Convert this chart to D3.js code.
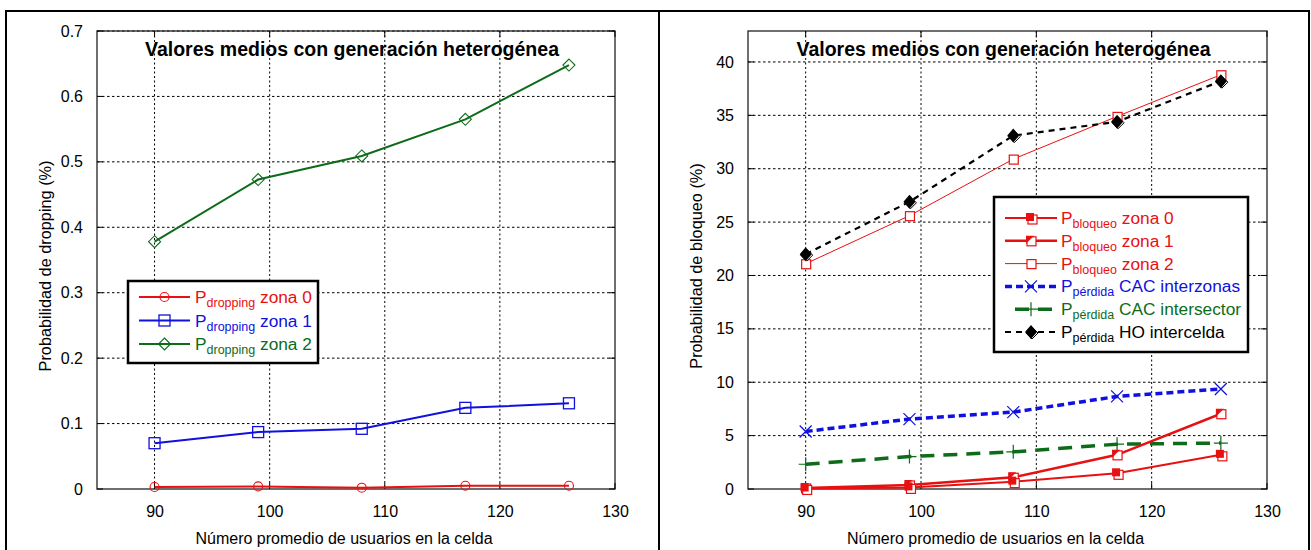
<!DOCTYPE html>
<html><head><meta charset="utf-8">
<script src="https://cdn.jsdelivr.net/npm/d3@7"></script>
<style>body{margin:0;background:#fff}text{font-family:Arial,"Liberation Sans",sans-serif}</style>
</head><body><svg id="c" width="1311" height="550"></svg>
<script>
const xValues = [90, 99, 108, 117, 126];
const xTicks = [90, 100, 110, 120, 130];
const leftYTicks = [0, 0.1, 0.2, 0.3, 0.4, 0.5, 0.6, 0.7];
const rightYTicks = [0, 5, 10, 15, 20, 25, 30, 35, 40];

const dropZona0 = [0.003, 0.004, 0.002, 0.005, 0.005];
const dropZona1 = [0.070, 0.087, 0.092, 0.124, 0.131];
const dropZona2 = [0.378, 0.473, 0.509, 0.565, 0.648];

const bloqZona0 = [0.05, 0.15, 0.69, 1.47, 3.2];
const bloqZona1 = [0.1, 0.38, 1.1, 3.2, 7.05];
const bloqZona2 = [21.1, 25.6, 30.9, 34.9, 38.8];
const perdInterzonas = [5.39, 6.55, 7.2, 8.67, 9.37];
const perdIntersector = [2.32, 3.04, 3.48, 4.2, 4.3];
const perdHO = [22.0, 26.9, 33.1, 34.4, 38.2];

const titleText = "Valores medios con generación heterogénea";
const xTitle = "Número promedio de usuarios en la celda";

const RED = "#e81010", BLUE = "#1010e0", GREEN = "#0d6b1a", BLACK = "#000";
const FONT = "Arial, 'Liberation Sans', sans-serif";
const svg = d3.select("#c");

svg.append("path").attr("d", "M6,550V11H1309V550M659,11V550").attr("fill","none").attr("stroke","#000").attr("stroke-width",2);

function panel(o) {
  const x = d3.scaleLinear().domain([85,130]).range([o.x0, o.x1]);
  const y = d3.scaleLinear().domain(o.yDomain).range([o.yb, o.yt]);
  const g = svg.append("g");
  g.selectAll(".gx").data(xTicks.slice(0,-1)).enter().append("line")
    .attr("x1", d=>x(d)).attr("x2", d=>x(d)).attr("y1", o.yt).attr("y2", o.yb)
    .attr("stroke","#000").attr("stroke-width",1).attr("stroke-dasharray","2,2.5");
  g.selectAll(".gy").data(o.yTicks.slice(1)).enter().append("line")
    .attr("y1", d=>y(d)).attr("y2", d=>y(d)).attr("x1", o.x0).attr("x2", o.x1)
    .attr("stroke","#000").attr("stroke-width",1).attr("stroke-dasharray","2.5,2.5");
  g.append("rect").attr("x",o.x0).attr("y",o.yt).attr("width",o.x1-o.x0).attr("height",o.yb-o.yt)
    .attr("fill","none").attr("stroke","#222").attr("stroke-width",1.3);
  const tk = g.append("g").attr("stroke","#000").attr("stroke-width",1);
  xTicks.forEach(d=>{
    tk.append("line").attr("x1",x(d)).attr("x2",x(d)).attr("y1",o.yb).attr("y2",o.yb-6);
    tk.append("line").attr("x1",x(d)).attr("x2",x(d)).attr("y1",o.yt).attr("y2",o.yt+6);
  });
  o.yTicks.forEach(d=>{
    tk.append("line").attr("y1",y(d)).attr("y2",y(d)).attr("x1",o.x0).attr("x2",o.x0+6);
    tk.append("line").attr("y1",y(d)).attr("y2",y(d)).attr("x1",o.x1).attr("x2",o.x1-6);
  });
  const ax = g.append("g").attr("transform",`translate(0,${o.yb})`)
    .call(d3.axisBottom(x).tickValues(xTicks).tickSize(0).tickPadding(17));
  ax.select(".domain").remove();
  ax.selectAll("text").attr("font-size",16).attr("fill","#000").attr("font-family",FONT);
  const ay = g.append("g").attr("transform",`translate(${o.x0},0)`)
    .call(d3.axisLeft(y).tickValues(o.yTicks).tickSize(0).tickPadding(14).tickFormat(d3.format("")));
  ay.select(".domain").remove();
  ay.selectAll("text").attr("font-size",16).attr("fill","#000").attr("font-family",FONT);
  g.append("text").attr("x",(o.x0+o.x1)/2 - 4).attr("y",56).attr("text-anchor","middle")
    .attr("font-size",19.5).attr("font-weight","bold").text(titleText);
  g.append("text").attr("x",(o.x0+o.x1)/2 - 12).attr("y",544).attr("text-anchor","middle")
    .attr("font-size",16).text(xTitle);
  g.append("text").attr("transform",`translate(${o.x0-46},${(o.yt+o.yb)/2 + 6}) rotate(-90)`)
    .attr("text-anchor","middle").attr("font-size",16.3).text(o.yTitle);
  return {x, y, g};
}

function marker(g, type, cx, cy, color) {
  const s = 5.5;
  if (type === "circle") g.append("circle").attr("cx",cx).attr("cy",cy).attr("r",4.5).attr("fill","none").attr("stroke",color).attr("stroke-width",1.1);
  if (type === "square") g.append("rect").attr("x",cx-s).attr("y",cy-s).attr("width",2*s).attr("height",2*s).attr("fill","none").attr("stroke",color).attr("stroke-width",1.3);
  if (type === "diamond") g.append("path").attr("d",`M${cx},${cy-6}L${cx+6},${cy}L${cx},${cy+6}L${cx-6},${cy}Z`).attr("fill","none").attr("stroke",color).attr("stroke-width",1.1);
  if (type === "sqOpen") g.append("rect").attr("x",cx-4).attr("y",cy-4).attr("width",9).attr("height",9).attr("fill","#fff").attr("stroke",color).attr("stroke-width",1.2);
  if (type === "sqFilled") {
    g.append("rect").attr("x",cx-3).attr("y",cy-3).attr("width",9).attr("height",9).attr("fill","#fff").attr("stroke",color).attr("stroke-width",1.2);
    g.append("rect").attr("x",cx-5).attr("y",cy-5).attr("width",8).attr("height",8).attr("fill",color);
  }
  if (type === "sqHalf") {
    g.append("rect").attr("x",cx-4).attr("y",cy-4).attr("width",9).attr("height",9).attr("fill","#fff").attr("stroke",color).attr("stroke-width",1.2);
    g.append("path").attr("d",`M${cx-5},${cy+3}L${cx+3},${cy-5}L${cx-5},${cy-5}Z`).attr("fill",color);
  }
  if (type === "x") g.append("path").attr("d",`M${cx-6},${cy-6}L${cx+6},${cy+6}M${cx-6},${cy+6}L${cx+6},${cy-6}`).attr("stroke",color).attr("stroke-width",1.2);
  if (type === "plus") g.append("path").attr("d",`M${cx-7},${cy}H${cx+7}M${cx},${cy-7}V${cy+7}`).attr("stroke",color).attr("stroke-width",1.2);
  if (type === "diamondFilled") {
    g.append("path").attr("d",`M${cx+1},${cy-5}L${cx+7},${cy+1}L${cx+1},${cy+7}L${cx-5},${cy+1}Z`).attr("fill","#fff").attr("stroke","#000").attr("stroke-width",1);
    g.append("path").attr("d",`M${cx},${cy-7}L${cx+6},${cy}L${cx},${cy+7}L${cx-6},${cy}Z`).attr("fill","#000");
  }
}

function series(p, vals, s) {
  const line = d3.line().x((d,i)=>p.x(xValues[i])).y(d=>p.y(d));
  p.g.append("path").datum(vals).attr("d",line).attr("fill","none").attr("stroke",s.color)
    .attr("stroke-width",s.w).attr("stroke-dasharray",s.dash||null);
  vals.forEach((v,i)=>marker(p.g, s.marker, p.x(xValues[i]), p.y(v), s.mcolor||s.color));
}

function legend(g, box, items) {
  g.append("rect").attr("x",box.x).attr("y",box.y).attr("width",box.w).attr("height",box.h)
    .attr("fill","#fff").attr("stroke","#000").attr("stroke-width",2.5);
  items.forEach((it,i)=>{
    const yy = box.y + box.first + i*box.step;
    g.append("line").attr("x1",box.lx0 + (it.lshift||0)).attr("x2",box.lx1).attr("y1",yy).attr("y2",yy)
      .attr("stroke",it.color).attr("stroke-width",it.w).attr("stroke-dasharray",it.dash||null);
    marker(g, it.marker, (box.lx0+box.lx1)/2, yy, it.mcolor||it.color);
    const t = g.append("text").attr("x",box.tx).attr("y",yy+6).attr("fill",it.color).attr("font-size",17.3);
    t.append("tspan").text("P");
    t.append("tspan").attr("font-size",12.5).attr("dy",4).text(it.sub);
    t.append("tspan").attr("dy",-4).text(it.label);
  });
}

const L = panel({x0:97, x1:615, yt:31, yb:489, yDomain:[0,0.7], yTicks:leftYTicks, yTitle:"Probabilidad de dropping (%)"});
series(L, dropZona2, {color:GREEN, w:2, marker:"diamond"});
series(L, dropZona1, {color:BLUE, w:2, marker:"square"});
series(L, dropZona0, {color:RED, w:2, marker:"circle"});
legend(L.g, {x:128, y:281, w:190, h:82, first:16, step:23.5, lx0:139, lx1:190, tx:195}, [
  {color:RED, w:2, marker:"circle", sub:"dropping", label:" zona 0"},
  {color:BLUE, w:2, marker:"square", sub:"dropping", label:" zona 1"},
  {color:GREEN, w:2, marker:"diamond", sub:"dropping", label:" zona 2"}
]);

const R = panel({x0:748, x1:1267, yt:31, yb:489, yDomain:[0,42.9], yTicks:rightYTicks, yTitle:"Probabilidad de bloqueo (%)"});
series(R, bloqZona2, {color:RED, w:1, marker:"sqOpen"});
series(R, perdHO, {color:BLACK, w:2.2, dash:"6,5", marker:"diamondFilled"});
series(R, perdInterzonas, {color:BLUE, w:3.5, dash:"7,4", marker:"x"});
series(R, perdIntersector, {color:GREEN, w:3.5, dash:"14,9", marker:"plus"});
series(R, bloqZona1, {color:RED, w:2.5, marker:"sqHalf"});
series(R, bloqZona0, {color:RED, w:2, marker:"sqFilled"});
legend(R.g, {x:994, y:197, w:254, h:155, first:21, step:22.8, lx0:1005, lx1:1057, tx:1061}, [
  {color:RED, w:2, marker:"sqFilled", sub:"bloqueo", label:" zona 0"},
  {color:RED, w:2.5, marker:"sqHalf", sub:"bloqueo", label:" zona 1"},
  {color:RED, w:1, marker:"sqOpen", sub:"bloqueo", label:" zona 2"},
  {color:BLUE, w:3.5, dash:"7,4", marker:"x", sub:"pérdida", label:" CAC interzonas"},
  {color:GREEN, w:3.5, dash:"14,9", marker:"plus", sub:"pérdida", label:" CAC intersector", lshift:10},
  {color:BLACK, w:2.2, dash:"6,5", marker:"diamondFilled", sub:"pérdida", label:" HO intercelda"}
]);
</script></body></html>
